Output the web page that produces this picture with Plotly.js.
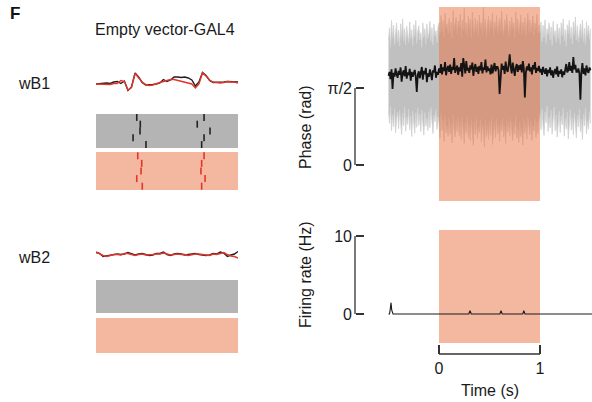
<!DOCTYPE html>
<html>
<head>
<meta charset="utf-8">
<script src="https://cdn.plot.ly/plotly-3.0.1.min.js"></script>
<style>html,body{margin:0;padding:0;background:#fff;}#chart{width:592px;height:402px;}</style>
</head>
<body>
<div id="chart"></div>
<script>
// ---------- DATA ----------
// wingbeat-triggered waveforms (time in ms within the window, amplitude a.u.)
var waveTime = [0,0.25,0.5,0.75,1,1.25,1.5,1.75,2,2.25,2.5,2.75,3,3.25,3.5,3.75,4,4.25,4.5,4.75,5,5.25,5.5,5.75,6,6.25,6.5,6.75,7,7.25,7.5,7.75,8,8.25,8.5,8.75,9,9.25,9.5,9.75,10];
var wB1Control = [-0.2,-0.1,-0.1,0,-0.1,0.2,0.3,-0.1,0.4,-1.5,-0.8,2.0,1.2,0.1,-0.4,-0.4,-0.3,-0.2,0,0.7,0.3,0.6,1.2,1.2,1.1,1.2,1.0,0.6,-0.6,0.2,2.1,1.5,0.5,0.1,0.1,0.1,0.2,0.3,0.3,0.3,0.2];
var wB1Light   = [-0.2,-0.2,-0.2,-0.2,-0.3,-0.1,-0.1,0.5,0.3,-1.4,-0.9,1.9,1.1,0.2,-0.3,-0.5,-0.4,-0.1,0.1,0.3,0.5,0.7,0.7,0.5,0.3,0.2,0,-0.2,-1.0,-0.2,2.0,1.4,0.6,0.2,0.1,0,0.1,0.3,0.2,0.2,0];
var wB2Control = [0.4,0.2,-0.4,-0.3,-0.1,0,0.1,0,0.1,0.4,0.1,-0.1,0.1,0.2,0,-0.2,-0.1,0.2,0.2,0.5,0,-0.2,0.1,0.2,0.1,-0.1,0,0.1,0.2,0,-0.1,-0.2,-0.1,0.2,0.1,0.5,0.3,-0.4,-0.1,0.1,0.6];
var wB2Light   = [0.5,0.1,-0.2,-0.4,-0.2,0,0,-0.1,0.2,0.2,0,-0.2,0,0.1,-0.1,-0.1,0,0.1,0.1,0.3,0.1,-0.1,0,0.1,0,0,-0.2,0,0.1,0.1,0,-0.1,-0.2,0.1,0,0.2,0.4,0,-0.3,-0.4,-0.7];

// wB1 spike rasters: spike times (ms) and trial numbers
var rasterCtrlTimes  = [2.87,3.12,3.10,2.61,3.52, 7.61,7.13,8.03,7.61,7.44];
var rasterCtrlTrials = [1,2,3,4,5, 1,2,3,4,5];
var rasterLightTimes  = [2.94,3.22,3.17,2.87,3.26, 7.61,7.44,7.39,7.68,7.44];
var rasterLightTrials = [1,2,3,4,5, 1,2,3,4,5];

// stimulus window (s)
var stimOn = 0, stimOff = 1;

// wB1 phase (rad), sampled every 10 ms from -0.5 s
var phaseStart = -0.5, phaseStep = 0.01;
var phaseMean = [
1.82,1.90,1.75,1.95,1.55,1.88,1.80,1.97,1.85,1.78,
1.92,1.84,1.99,1.70,1.87,1.93,1.81,2.02,1.76,1.89,
1.83,1.96,1.72,1.90,1.80,1.86,1.94,1.79,1.49,1.84,
1.91,1.77,1.88,2.00,1.74,1.92,1.85,1.98,1.69,1.87,
1.80,1.95,1.86,1.73,1.93,1.89,2.03,1.78,1.90,1.84,
1.97,1.88,2.06,1.85,1.99,1.92,2.10,1.83,1.96,2.02,
1.90,2.05,1.86,2.00,1.94,2.18,1.88,1.97,2.03,1.84,
1.99,1.91,2.08,1.80,2.18,2.04,1.87,2.12,1.93,1.98,
1.88,2.03,1.95,2.09,1.82,1.98,2.06,1.90,2.00,1.86,
2.02,1.93,2.10,1.87,1.99,1.94,2.15,1.89,2.01,1.92,
1.97,1.85,2.05,1.87,1.96,2.08,1.91,2.00,2.00,1.93,
1.45,1.88,2.07,1.94,2.02,1.86,2.11,1.95,1.90,2.04,
2.26,2.00,1.87,2.09,1.96,1.82,1.99,2.06,1.90,2.03,
1.94,2.05,1.89,2.12,1.97,1.38,1.88,2.01,1.93,2.07,
1.91,1.99,1.85,2.04,1.95,2.10,1.88,1.98,1.92,2.02,
1.89,1.96,1.84,2.00,1.92,1.86,1.97,1.81,1.94,1.88,
1.99,1.83,1.93,1.78,1.90,1.96,1.85,2.01,1.80,1.92,
1.86,1.95,1.79,1.91,1.84,1.98,2.06,1.89,1.94,2.10,
1.92,2.02,1.88,2.20,1.95,2.04,1.90,1.90,1.97,1.87,
1.33,1.91,2.08,1.86,1.97,1.83,2.03,1.92,1.88,1.99,
1.93];
var phaseUpper = [
2.55,2.80,2.40,2.95,2.60,2.85,2.45,2.70,2.90,2.50,
2.75,2.42,2.88,2.60,2.98,2.52,2.78,2.45,2.83,2.65,
2.50,2.92,2.58,2.76,2.44,2.86,2.62,2.95,2.48,2.72,
2.84,2.55,2.70,2.40,2.90,2.60,2.78,2.47,2.88,2.58,
2.68,2.93,2.52,2.80,2.45,2.87,2.63,2.74,2.50,2.82,
2.90,2.65,3.05,2.72,2.95,2.60,3.10,2.78,2.88,2.68,
3.00,2.70,2.92,2.58,3.15,2.75,2.85,3.02,2.66,2.94,
2.80,3.08,2.62,2.96,2.74,3.20,2.70,2.90,2.64,3.04,
2.76,2.98,2.60,3.12,2.82,2.68,3.00,2.72,2.94,2.63,
3.06,2.78,2.90,2.66,3.25,2.74,2.97,2.61,2.86,3.03,
2.70,2.95,2.80,3.10,2.64,2.92,2.76,3.05,2.68,2.88,
2.99,2.72,3.14,2.80,2.65,2.96,2.74,3.08,2.86,2.62,
2.94,2.70,3.02,2.78,2.90,2.60,3.12,2.76,2.97,2.68,
2.84,3.06,2.66,2.92,2.74,3.00,2.62,2.88,3.10,2.72,
2.96,2.70,2.85,3.04,2.64,2.90,2.78,3.08,2.69,2.86,
2.70,2.92,2.52,2.85,2.60,2.96,2.48,2.78,2.66,2.90,
2.55,2.82,2.44,2.93,2.62,2.74,2.50,2.88,2.58,2.80,
2.46,2.90,2.64,2.98,2.53,2.76,2.42,2.86,2.68,2.95,
2.58,2.81,2.47,2.92,2.65,3.02,2.55,2.84,2.50,2.75,
2.88,2.60,2.96,2.52,2.79,2.45,2.92,2.63,2.85,2.57,
2.78];
var phaseLower = [
1.10,0.85,1.20,0.70,1.02,0.78,1.15,0.66,0.95,1.08,
0.74,1.12,0.88,0.62,1.05,0.80,1.18,0.69,0.98,0.83,
1.14,0.72,1.00,0.58,1.10,0.86,0.65,1.06,0.77,1.16,
0.81,1.03,0.68,1.12,0.90,0.61,1.07,0.79,0.96,0.70,
1.09,0.76,1.17,0.84,0.64,1.02,0.88,1.13,0.73,0.99,
0.85,0.55,1.05,0.70,0.92,0.48,1.00,0.66,0.80,0.58,
0.95,0.62,0.83,0.45,1.02,0.72,0.57,0.90,0.68,0.98,
0.60,0.88,0.52,0.96,0.74,0.44,0.86,0.65,1.00,0.56,
0.82,0.50,0.93,0.68,0.40,0.89,0.62,0.97,0.54,0.78,
0.66,0.94,0.47,0.84,0.70,0.36,0.91,0.58,0.80,0.52,
0.90,0.61,0.98,0.42,0.76,0.87,0.55,0.95,0.64,0.82,
0.48,0.85,0.69,0.96,0.57,0.80,0.44,0.92,0.67,0.88,
0.60,0.94,0.72,0.50,0.86,0.63,0.99,0.55,0.78,0.46,
0.89,0.58,0.76,0.41,0.93,0.65,0.84,0.53,0.97,0.70,
0.62,0.90,0.50,0.81,0.69,0.95,0.56,0.87,0.64,0.92,
1.05,0.72,1.15,0.80,0.60,1.08,0.86,1.20,0.68,0.98,
0.76,1.12,0.63,0.94,1.18,0.70,1.02,0.57,0.90,1.10,
0.66,1.00,0.82,1.16,0.59,0.95,0.74,1.08,0.53,0.88,
1.13,0.71,0.97,0.62,1.06,0.84,0.55,1.01,0.78,1.14,
0.68,0.93,0.52,1.04,0.80,1.17,0.64,0.90,0.73,1.09,
0.85];

// wB2 firing rate (Hz)
var rateTime = [-0.50,-0.49,-0.483,-0.475,-0.468,-0.455,-0.20,-0.19,-0.18,0.28,0.295,0.307,0.32,0.34,0.59,0.603,0.614,0.626,0.64,0.82,0.829,0.84,0.851,0.86,1.52];
var rateHz   = [0,0,0.6,1.45,0.5,0,0,0.05,0,0,0,0.42,0,0,0,0,0.42,0,0,0,0,0.42,0,0,0];

// tick labels
var phaseTickVals = [0, Math.PI/2], phaseTickText = ['0','π/2'];
var rateTickVals = [0, 10], rateTickText = ['0','10'];
var timeTickVals = [0, 1], timeTickText = ['0','1'];

// ---------- LAYOUT HELPERS ----------
var W = 592, H = 402;
function px(x){ return x / W; }
function py(y){ return 1 - y / H; }
function dom(top, bottom){ return [py(bottom), py(top)]; }

var phaseTime = phaseMean.map(function(_, i){ return +(phaseStart + i*phaseStep).toFixed(3); });
var phaseRange = [-0.7344, 3.2232];
var rateRange = [-3.718, 10.769];

var FONT = 'Liberation Sans, Arial, Helvetica, sans-serif';
var TXT = '#1a1a1a';
var BLK = '#1e1e1e', RED = '#e2352c';
var SALMON = '#f4b8a0', GRAY = '#b4b4b4';
var FS = 16;

var traces = [
  // wB1 waveforms
  {x: waveTime, y: wB1Control, xaxis:'x', yaxis:'y', mode:'lines', line:{color:BLK, width:1.4}, hoverinfo:'skip'},
  {x: waveTime, y: wB1Light, xaxis:'x', yaxis:'y', mode:'lines', line:{color:RED, width:1.4}, hoverinfo:'skip'},
  // wB1 rasters
  {x: rasterCtrlTimes, y: rasterCtrlTrials, xaxis:'x', yaxis:'y2', mode:'markers',
   marker:{symbol:'line-ns', size:5, line:{width:1.6, color:'#222'}}, hoverinfo:'skip'},
  {x: rasterLightTimes, y: rasterLightTrials, xaxis:'x', yaxis:'y3', mode:'markers',
   marker:{symbol:'line-ns', size:5, line:{width:1.6, color:RED}}, hoverinfo:'skip'},
  // wB2 waveforms
  {x: waveTime, y: wB2Control, xaxis:'x', yaxis:'y4', mode:'lines', line:{color:BLK, width:1.4}, hoverinfo:'skip'},
  {x: waveTime, y: wB2Light, xaxis:'x', yaxis:'y4', mode:'lines', line:{color:RED, width:1.4}, hoverinfo:'skip'},
  // wB2 rasters (no spikes)
  {x: [], y: [], xaxis:'x', yaxis:'y5', mode:'markers', hoverinfo:'skip'},
  {x: [], y: [], xaxis:'x', yaxis:'y6', mode:'markers', hoverinfo:'skip'},
  // phase band
  {x: phaseTime, y: phaseLower, xaxis:'x2', yaxis:'y7', mode:'lines', line:{color:'#d2d2d2', width:0.8}, hoverinfo:'skip'},
  {x: phaseTime, y: phaseUpper, xaxis:'x2', yaxis:'y7', mode:'lines', fill:'tonexty', fillcolor:'rgb(192,192,192)', line:{color:'#d2d2d2', width:0.8}, hoverinfo:'skip'},
  // stimulus overlay
  {x: [stimOn, stimOff, stimOff, stimOn, stimOn], y: [phaseRange[0], phaseRange[0], phaseRange[1], phaseRange[1], phaseRange[0]],
   xaxis:'x2', yaxis:'y7', mode:'lines', fill:'toself', fillcolor:'rgba(233,113,65,0.5)', line:{width:0}, hoverinfo:'skip'},
  // phase mean
  {x: phaseTime, y: phaseMean, xaxis:'x2', yaxis:'y7', mode:'lines', line:{color:'#141414', width:1.8}, hoverinfo:'skip'},
  // firing rate
  {x: rateTime, y: rateHz, xaxis:'x2', yaxis:'y8', mode:'lines', line:{color:'#1a1a1a', width:1.1}, hoverinfo:'skip'}
];

var hidden = {visible:false, fixedrange:true};
function hy(d, r){ return Object.assign({domain:d, range:r, anchor:'x'}, hidden); }

var lineCol = '#333';
var tickFont = {size:FS, family:FONT, color:TXT};
var layout = {
  width: W, height: H,
  margin: {l:0, r:0, t:0, b:0},
  paper_bgcolor: '#fff', plot_bgcolor: 'rgba(0,0,0,0)',
  showlegend: false,
  font: {family: FONT, color: TXT, size: FS},
  xaxis: Object.assign({domain:[px(96), px(238)], range:[0, 10], anchor:'y'}, hidden),
  yaxis: hy(dom(66, 96), [-2.6, 3.4]),
  yaxis2: hy(dom(114, 148), [5.5, 0.5]),
  yaxis3: hy(dom(152, 190), [5.5, 0.5]),
  yaxis4: hy(dom(240, 270), [-3.1, 2.9]),
  yaxis5: hy(dom(280, 313), [5.5, 0.5]),
  yaxis6: hy(dom(318, 353), [5.5, 0.5]),
  xaxis2: {domain:[px(380), 1], range:[-0.5842, 1.5149], anchor:'free', position: py(354),
    showgrid:false, zeroline:false, showline:false, ticks:'inside', ticklen:9, tickwidth:1.3, tickcolor:lineCol,
    tickvals: timeTickVals, ticktext: timeTickText, ticklabelstandoff: 3, tickfont:tickFont, fixedrange:true},
  yaxis7: {domain: dom(7, 201), range: phaseRange, anchor:'free', position: px(355),
    showgrid:false, zeroline:false, showline:false, ticks:'inside', ticklen:8, tickwidth:1.3, tickcolor:lineCol,
    tickvals: phaseTickVals, ticktext: phaseTickText, ticklabelstandoff: 3, tickfont:tickFont, fixedrange:true},
  yaxis8: {domain: dom(230, 343), range: rateRange, anchor:'free', position: px(355),
    showgrid:false, zeroline:false, showline:false, ticks:'inside', ticklen:8, tickwidth:1.3, tickcolor:lineCol,
    tickvals: rateTickVals, ticktext: rateTickText, ticklabelstandoff: 3, tickfont:tickFont, fixedrange:true},
  shapes: [
    {type:'rect', xref:'x domain', yref:'y2 domain', x0:0, x1:1, y0:0, y1:1, fillcolor:GRAY, line:{width:0}, layer:'below'},
    {type:'rect', xref:'x domain', yref:'y3 domain', x0:0, x1:1, y0:0, y1:1, fillcolor:SALMON, line:{width:0}, layer:'below'},
    {type:'rect', xref:'x domain', yref:'y5 domain', x0:0, x1:1, y0:0, y1:1, fillcolor:GRAY, line:{width:0}, layer:'below'},
    {type:'rect', xref:'x domain', yref:'y6 domain', x0:0, x1:1, y0:0, y1:1, fillcolor:SALMON, line:{width:0}, layer:'below'},
    {type:'rect', xref:'x2', yref:'y8 domain', x0:stimOn, x1:stimOff, y0:0, y1:1, fillcolor:SALMON, line:{width:0}, layer:'below'},
    {type:'line', xref:'paper', yref:'y7', x0:px(355), x1:px(355), y0:phaseTickVals[0], y1:phaseTickVals[1], line:{color:lineCol, width:1.3}},
    {type:'line', xref:'paper', yref:'y8', x0:px(355), x1:px(355), y0:rateTickVals[0], y1:rateTickVals[1], line:{color:lineCol, width:1.3}},
    {type:'line', xref:'x2', yref:'paper', x0:timeTickVals[0], x1:timeTickVals[1], y0:py(354), y1:py(354), line:{color:lineCol, width:1.3}}
  ],
  annotations: [
    {text:'<b>F</b>', x:px(8), y:py(14), xref:'paper', yref:'paper', xanchor:'left', yanchor:'middle', showarrow:false, font:{size:17, family:FONT, color:'#111'}},
    {text:'Empty vector-GAL4', x:px(165), y:py(30), xref:'paper', yref:'paper', xanchor:'center', yanchor:'middle', showarrow:false, font:{size:FS, family:FONT, color:TXT}},
    {text:'wB1', x:px(16), y:py(84), xref:'paper', yref:'paper', xanchor:'left', yanchor:'middle', showarrow:false, font:{size:FS, family:FONT, color:TXT}},
    {text:'wB2', x:px(16), y:py(257), xref:'paper', yref:'paper', xanchor:'left', yanchor:'middle', showarrow:false, font:{size:FS, family:FONT, color:TXT}},
    {text:'Phase (rad)', x:px(305), y:py(127), xref:'paper', yref:'paper', xanchor:'center', yanchor:'middle', textangle:-90, showarrow:false, font:{size:FS, family:FONT, color:TXT}},
    {text:'Firing rate (Hz)', x:px(305), y:py(275), xref:'paper', yref:'paper', xanchor:'center', yanchor:'middle', textangle:-90, showarrow:false, font:{size:FS, family:FONT, color:TXT}},
    {text:'Time (s)', x:px(490), y:py(390), xref:'paper', yref:'paper', xanchor:'center', yanchor:'middle', showarrow:false, font:{size:FS, family:FONT, color:TXT}}
  ]
};

Plotly.newPlot('chart', traces, layout, {staticPlot:true, displayModeBar:false});
</script>
</body>
</html>
